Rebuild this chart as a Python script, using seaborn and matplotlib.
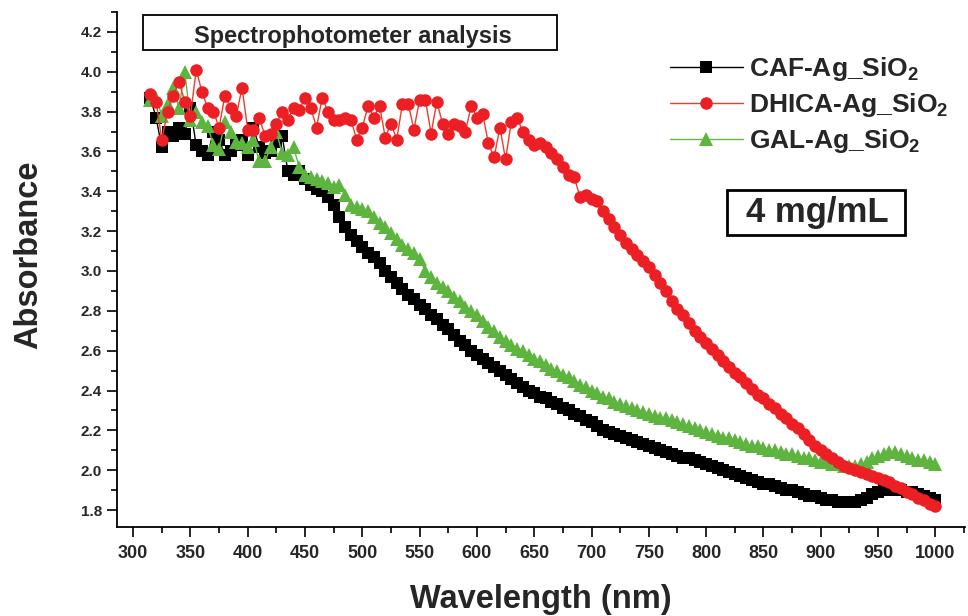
import numpy as np
import pandas as pd
import matplotlib
matplotlib.use("Agg")
import matplotlib.pyplot as plt
import seaborn as sns
from matplotlib.ticker import MultipleLocator

# wavelength grid (nm), one point every 5 nm
wavelength = list(range(315, 1001, 5))

caf = [3.87, 3.77, 3.62, 3.70, 3.68, 3.72, 3.69, 3.82, 3.63, 3.60,
       3.58, 3.70, 3.66, 3.58, 3.60, 3.63, 3.66, 3.58, 3.72, 3.62,
       3.59, 3.60, 3.65, 3.68, 3.50, 3.48, 3.50, 3.46, 3.43, 3.41,
       3.40, 3.37, 3.33, 3.27, 3.22, 3.18, 3.15, 3.12, 3.09, 3.07,
       3.04, 3.00, 2.97, 2.94, 2.91, 2.88, 2.86, 2.83, 2.81, 2.78,
       2.76, 2.73, 2.71, 2.68, 2.65, 2.63, 2.60, 2.58, 2.56, 2.54,
       2.52, 2.50, 2.48, 2.46, 2.44, 2.42, 2.40, 2.39, 2.37, 2.36,
       2.34, 2.33, 2.31, 2.30, 2.28, 2.27, 2.25, 2.24, 2.22, 2.20,
       2.19, 2.18, 2.17, 2.16, 2.15, 2.14, 2.13, 2.12, 2.11, 2.10,
       2.09, 2.08, 2.07, 2.06, 2.06, 2.05, 2.04, 2.03, 2.02, 2.01,
       2.00, 1.99, 1.98, 1.97, 1.96, 1.95, 1.94, 1.93, 1.93, 1.92,
       1.91, 1.90, 1.90, 1.89, 1.88, 1.87, 1.87, 1.86, 1.85, 1.85,
       1.84, 1.84, 1.84, 1.84, 1.85, 1.86, 1.88, 1.89, 1.90, 1.90,
       1.90, 1.90, 1.89, 1.89, 1.88, 1.87, 1.86, 1.85]

dhica = [3.89, 3.85, 3.66, 3.80, 3.88, 3.95, 3.85, 3.78, 4.01, 3.90,
         3.82, 3.80, 3.72, 3.88, 3.82, 3.78, 3.92, 3.71, 3.71, 3.77,
         3.68, 3.69, 3.74, 3.80, 3.76, 3.82, 3.81, 3.87, 3.82, 3.72,
         3.87, 3.80, 3.76, 3.76, 3.77, 3.76, 3.66, 3.72, 3.83, 3.77,
         3.83, 3.67, 3.74, 3.66, 3.84, 3.84, 3.71, 3.86, 3.86, 3.69,
         3.85, 3.74, 3.69, 3.74, 3.73, 3.70, 3.83, 3.77, 3.79, 3.64,
         3.57, 3.72, 3.56, 3.75, 3.77, 3.70, 3.66, 3.63, 3.64, 3.62,
         3.59, 3.56, 3.52, 3.48, 3.47, 3.37, 3.38, 3.36, 3.35, 3.30,
         3.26, 3.22, 3.18, 3.14, 3.11, 3.08, 3.05, 3.02, 2.98, 2.94,
         2.90, 2.85, 2.81, 2.78, 2.74, 2.70, 2.67, 2.64, 2.61, 2.58,
         2.55, 2.52, 2.49, 2.47, 2.44, 2.41, 2.38, 2.36, 2.33, 2.31,
         2.28, 2.26, 2.23, 2.21, 2.18, 2.15, 2.12, 2.10, 2.08, 2.06,
         2.04, 2.02, 2.01, 2.00, 1.99, 1.98, 1.97, 1.96, 1.95, 1.94,
         1.92, 1.91, 1.89, 1.88, 1.86, 1.85, 1.83, 1.82]

gal = [3.86, 3.87, 3.78, 3.84, 3.92, 3.82, 4.00, 3.76, 3.80, 3.75,
       3.73, 3.63, 3.61, 3.75, 3.70, 3.65, 3.64, 3.62, 3.66, 3.55,
       3.55, 3.62, 3.70, 3.59, 3.58, 3.62, 3.52, 3.48, 3.47, 3.46,
       3.45, 3.44, 3.42, 3.43, 3.38, 3.33, 3.32, 3.31, 3.30, 3.27,
       3.24, 3.22, 3.19, 3.16, 3.13, 3.11, 3.09, 3.06, 3.00, 2.97,
       2.94, 2.92, 2.90, 2.87, 2.85, 2.82, 2.80, 2.78, 2.75, 2.72,
       2.70, 2.67, 2.65, 2.63, 2.61, 2.60, 2.58, 2.56, 2.55, 2.53,
       2.51, 2.50, 2.48, 2.47, 2.45, 2.43, 2.42, 2.40, 2.39, 2.37,
       2.36, 2.34, 2.33, 2.32, 2.31, 2.30, 2.29, 2.28, 2.27, 2.26,
       2.26, 2.25, 2.24, 2.23, 2.22, 2.21, 2.20, 2.19, 2.18, 2.17,
       2.16, 2.16, 2.15, 2.14, 2.13, 2.12, 2.12, 2.11, 2.10, 2.10,
       2.09, 2.08, 2.08, 2.07, 2.06, 2.06, 2.05, 2.04, 2.04, 2.03,
       2.03, 2.02, 2.02, 2.02, 2.03, 2.04, 2.06, 2.07, 2.08, 2.09,
       2.09, 2.08, 2.07, 2.06, 2.05, 2.05, 2.04, 2.03]

labels = [r"CAF-Ag_SiO$_\mathbf{2}$", r"DHICA-Ag_SiO$_\mathbf{2}$", r"GAL-Ag_SiO$_\mathbf{2}$"]

sns.set_style("ticks")
plt.rcParams['font.family'] = ['Liberation Sans', 'DejaVu Sans']
plt.rcParams['mathtext.fontset'] = 'custom'
plt.rcParams['mathtext.rm'] = 'Liberation Sans:bold'
plt.rcParams['mathtext.bf'] = 'Liberation Sans:bold'

fig = plt.figure(figsize=(9.68, 6.16), dpi=100)
ax = fig.add_axes([0.121, 0.1445, 0.876, 0.836])

# black, green, red drawing order
sns.lineplot(x=wavelength, y=caf, ax=ax, color='black', lw=1, marker='s',
             markersize=8, markeredgewidth=0, label=labels[0])
sns.lineplot(x=wavelength, y=gal, ax=ax, color='#62b846', lw=1, marker='^',
             markersize=10, markeredgewidth=0, markerfacecolor='#5db43f', label=labels[2])
sns.lineplot(x=wavelength, y=dhica, ax=ax, color='#f03a2a', lw=1, marker='o',
             markersize=9, markeredgewidth=0, markerfacecolor='#ec2024', label=labels[1])

ax.set_xlim(286, 1026)
ax.set_ylim(1.715, 4.30)
ax.xaxis.set_major_locator(MultipleLocator(50))
ax.xaxis.set_minor_locator(MultipleLocator(25))
ax.yaxis.set_major_locator(MultipleLocator(0.2))
ax.yaxis.set_minor_locator(MultipleLocator(0.1))
ax.yaxis.set_major_formatter(matplotlib.ticker.FormatStrFormatter('%.1f'))
ax.tick_params(axis='both', which='major', direction='out', length=7, width=1.2, color='black')
ax.tick_params(axis='both', which='minor', direction='out', length=4, width=1.2, color='black')
ax.tick_params(axis='x', labelsize=13, pad=6)
ax.tick_params(axis='y', labelsize=11, pad=4)
for t in ax.get_xticklabels() + ax.get_yticklabels():
    t.set_fontweight('bold')
for t in ax.get_xticklabels():
    t.set_fontstretch('condensed')

sns.despine(ax=ax)
for s in ['left', 'bottom']:
    ax.spines[s].set_linewidth(1.3)
    ax.spines[s].set_color('black')

ax.set_xlabel('Wavelength (nm)', fontsize=23.5, fontweight='bold', labelpad=16)
ax.set_ylabel('Absorbance', fontsize=23.5, fontweight='bold')
ax.yaxis.set_label_coords((44 - 117) / 848, (527 - 255) / 515)

# title box
ax.text((353 - 117) / 848, 0.953, 'Spectrophotometer analysis', transform=ax.transAxes,
        ha='center', va='center', fontsize=17, fontweight='bold')
fig.patches.append(matplotlib.patches.Rectangle((143 / 968, 1 - 50 / 616), 414 / 968, 35 / 616,
                   transform=fig.transFigure, fill=False, ec='black', lw=1.3, zorder=5))

# concentration box
ax.text((817 - 117) / 848, (527 - 212) / 515, '4 mg/mL', transform=ax.transAxes,
        ha='center', va='center', fontsize=25, fontweight='bold')
fig.patches.append(matplotlib.patches.Rectangle((727 / 968, 1 - 235 / 616), 178 / 968, 45 / 616,
                   transform=fig.transFigure, fill=False, ec='black', lw=2, zorder=5))

handles, lbls = ax.get_legend_handles_labels()
leg = ax.legend([handles[i] for i in [0, 2, 1]], [lbls[i] for i in [0, 2, 1]],
                loc='upper left', bbox_to_anchor=((670 - 117) / 848, (527 - 55) / 515),
                frameon=False, borderpad=0, borderaxespad=0,
                handlelength=2.75, handletextpad=0.25, labelspacing=0.3,
                prop={'size': 19, 'weight': 'bold'})

fig.savefig('out.png', dpi=100)
